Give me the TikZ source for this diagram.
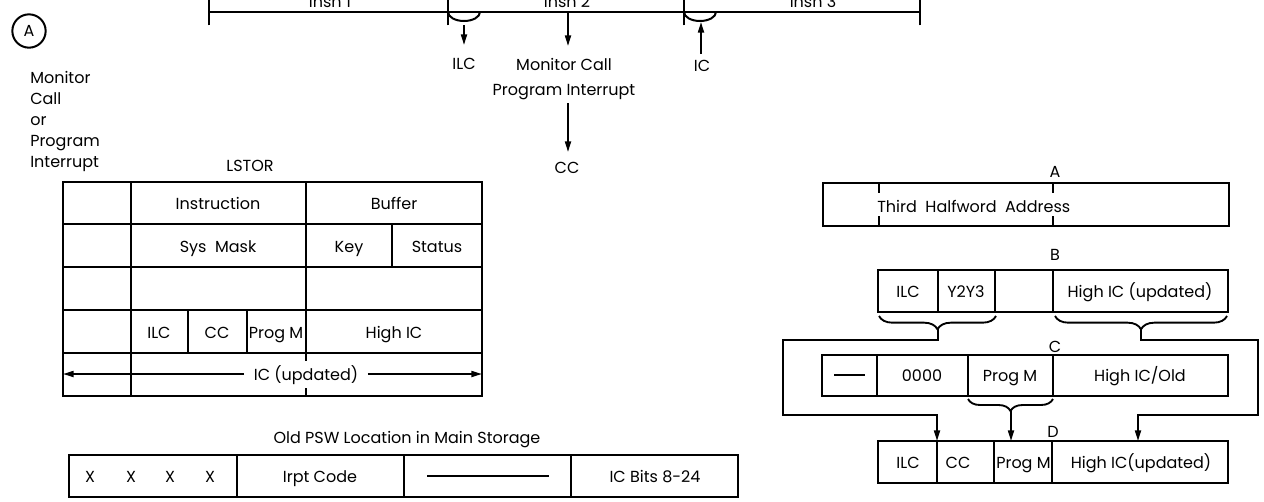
\documentclass[tikz,border=0pt]{standalone}
\usepackage{fontspec}
\setmainfont{Poppins}
\usetikzlibrary{arrows.meta,decorations.pathreplacing}
\begin{document}
\begin{tikzpicture}[x=0.75pt,y=-0.75pt,
  font=\fontsize{12}{14}\selectfont,
  ln/.style={line width=1.5pt},
  txt/.style={inner sep=0pt,anchor=base},
  txtw/.style={inner sep=0pt,anchor=base west},
  arr/.style={line width=1.4pt,-{Triangle[length=8pt,width=4.5pt]}},
  brc/.style={line width=1.4pt,decorate,decoration={brace,mirror,amplitude=#1}}]
\useasboundingbox (0,0) rectangle (1264,501);

% ---------- timeline ----------
\coordinate (t0) at (209,12);
\coordinate (t1) at (448,12);
\coordinate (t2) at (684,12);
\coordinate (t3) at (920,12);
\draw[ln] (t0) -- (t3);
\foreach \p in {t0,t1,t2,t3} \draw[ln] ([yshift=-10]\p) -- ([yshift=9]\p);
\draw[ln] (t1) arc[start angle=180,end angle=0,x radius=16,y radius=9];
\draw[ln] (t2) arc[start angle=180,end angle=0,x radius=16,y radius=9];
\node[txt] (insn1) at (330,7) {Insn 1};
\node[txt] (insn2) at (567,7) {Insn 2};
\node[txt] (insn3) at (813,7) {Insn 3};

\node[txt] (ilc) at (464,69) {ILC};
\node[txt] (mc) at (564,70) {Monitor Call};
\node[txt] (pi) at (564,95) {Program Interrupt};
\node[txt] (cc) at (567,173) {CC};
\node[txt] (ic) at (702,71) {IC};
\coordinate (ilcs) at (464,25);
\coordinate (ilce) at (464,45);
\coordinate (mcs) at (568,12);
\coordinate (mce) at (568,46);
\coordinate (pis) at (568,103);
\coordinate (pie) at (568,152);
\coordinate (ics) at (701,54);
\coordinate (ice) at (701,22);
\draw[arr] (ilcs) -- (ilce);
\draw[arr] (mcs) -- (mce);
\draw[arr] (pis) -- (pie);
\draw[arr] (ics) -- (ice);

% ---------- left texts ----------
\node[circle,draw,line width=1.5pt,minimum size=25pt,inner sep=0pt] (circA) at (29,31) {A};
\node[txtw] (l1) at (30,83) {Monitor};
\node[txtw] (l2) at (30,104) {Call};
\node[txtw] (l3) at (30,125) {or};
\node[txtw] (l4) at (30,146) {Program};
\node[txtw] (l5) at (30,167) {Interrupt};

% ---------- LSTOR table ----------
\node[txt] (lstor) at (250,171) {LSTOR};
\draw[ln] (63,182) rectangle (482,396);
\foreach \y in {224,267,310,353} \draw[ln] (63,\y) -- (482,\y);
\draw[ln] (131,182) -- (131,396);
\draw[ln] (306,182) -- (306,353);
\draw[ln] (306,353) -- (306,361);
\draw[ln] (306,388) -- (306,396);
\draw[ln] (392,224) -- (392,267);
\draw[ln] (188,310) -- (188,353);
\draw[ln] (247,310) -- (247,353);
\node[txt] (instr) at (218,209) {Instruction};
\node[txt] (buf) at (394,209) {Buffer};
\node[txt] (sysm) at (218,252) {Sys\ \ Mask};
\node[txt] (key) at (349,252) {Key};
\node[txt] (stat) at (437,252) {Status};
\node[txt] (tilc) at (159,338) {ILC};
\node[txt] (tcc) at (217,338) {CC};
\node[txt] (tpm) at (276,338) {Prog M};
\node[txt] (thic) at (394,338) {High IC};
\node[txt,fill=white,inner xsep=7pt] (icu) at (306,380) {IC (updated)};
\coordinate (icl) at (63,374);
\coordinate (icr) at (482,374);
\draw[arr] (icu.west |- icl) -- (icl);
\draw[arr] (icu.east |- icr) -- (icr);

% ---------- Old PSW ----------
\node[txt] (psw) at (407,443) {Old PSW Location in Main Storage};
\draw[ln] (69,455) rectangle (738,497);
\foreach \x in {237,404,571} \draw[ln] (\x,455) -- (\x,497);
\node[txt] (x1) at (90,482) {X};
\node[txt] (x2) at (131,482) {X};
\node[txt] (x3) at (170,482) {X};
\node[txt] (x4) at (210,482) {X};
\node[txt] (irpt) at (320,482) {Irpt Code};
\coordinate (dl) at (427,476);
\coordinate (dr) at (549,476);
\draw[ln] (dl) -- (dr);
\node[txt] (icb) at (655,482) {IC Bits 8-24};

% ---------- Box A ----------
\node[txt] (la) at (1055,177) {A};
\draw[ln] (823,183) rectangle (1229,226);
\foreach \x in {879,1053} {\draw[ln] (\x,183) -- (\x,193); \draw[ln] (\x,216) -- (\x,226);}
\node[txtw] (tha) at (877,212) {Third\ \ Halfword\ \ Address};

% ---------- Box B ----------
\node[txt] (lb) at (1055,260) {B};
\draw[ln] (878,270) rectangle (1228,312);
\foreach \x in {938,995,1053} \draw[ln] (\x,270) -- (\x,312);
\node[txt] (bilc) at (908,297) {ILC};
\node[txt] (by) at (966,297) {Y2Y3};
\node[txt] (bhic) at (1140,297) {High IC (updated)};
\draw[brc=10pt] (879,316) -- (996,316);
\draw[brc=10pt] (1055,316) -- (1227,316);

% ---------- Box C ----------
\node[txt] (lc) at (1055,352) {C};
\draw[ln] (822,355) rectangle (1228,396);
\foreach \x in {877,968,1053} \draw[ln] (\x,355) -- (\x,396);
\coordinate (cdl) at (834,375);
\coordinate (cdr) at (865,375);
\draw[ln] (cdl) -- (cdr);
\node[txt] (c0) at (922,381) {0000};
\node[txt] (cpm) at (1010,381) {Prog M};
\node[txt] (chic) at (1140,381) {High IC/Old};
\draw[brc=9pt] (968,399) -- (1053,399);

% ---------- Box D ----------
\node[txt] (ld) at (1053,437) {D};
\draw[ln] (878,441) rectangle (1228,483);
\foreach \x in {937,994,1052} \draw[ln] (\x,441) -- (\x,483);
\node[txt] (dilc) at (908,468) {ILC};
\node[txt] (dcc) at (958,468) {CC};
\node[txtw] (dpm) at (996,468) {Prog M};
\node[txt] (dhic) at (1141,468) {High IC(updated)};

% ---------- routes ----------
\coordinate (bl) at (938,329);
\coordinate (lc1) at (783,340);
\coordinate (lc2) at (937,415);
\coordinate (dt1) at (937,441);
\draw[arr] (bl) -- (bl |- lc1) -- (lc1) -- (lc1 |- lc2) -- (lc2) -- (dt1);
\coordinate (br) at (1141,329);
\coordinate (rc1) at (1258,340);
\coordinate (rc2) at (1138,415);
\coordinate (dt2) at (1138,441);
\draw[arr] (br) -- (br |- rc1) -- (rc1) -- (rc1 |- rc2) -- (rc2) -- (dt2);
\coordinate (pmt) at (1011,411);
\coordinate (dt3) at (1011,441);
\draw[arr] (pmt) -- (dt3);
\end{tikzpicture}
\end{document}
